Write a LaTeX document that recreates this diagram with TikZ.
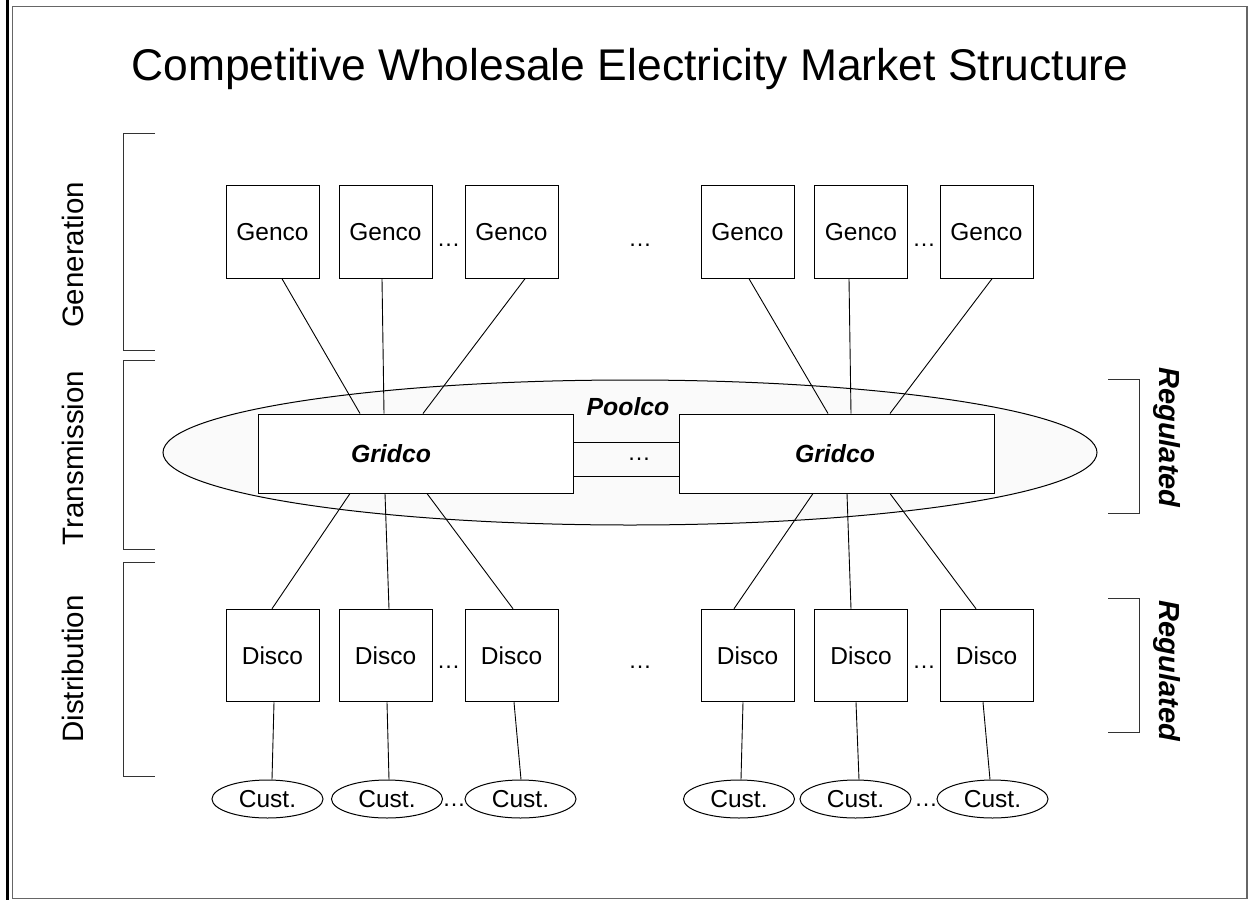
\documentclass[tikz,border=0pt]{standalone}
\usepackage{fontspec}
\setmainfont{Liberation Sans}
\usetikzlibrary{calc,shapes.geometric}
\begin{document}
\begin{tikzpicture}[x=1pt,y=-1pt,
  conn/.style={draw=black, line width=0.9pt},
  unitbox/.style={draw=black, line width=1pt, fill=white, minimum width=93pt, minimum height=92.5pt, inner sep=0pt, font=\fontsize{24.5}{27}\selectfont},
  custnode/.style={draw=black, line width=1pt, fill=white, ellipse, minimum width=111pt, minimum height=38pt, inner sep=0pt, font=\fontsize{24.5}{27}\selectfont},
  gridbox/.style={draw=black, line width=1pt, fill=white, minimum width=315pt, minimum height=79pt, inner sep=0pt},
  gridtext/.style={inner sep=0pt, font=\fontsize{24.8}{27}\selectfont\bfseries\itshape},
  dotsnode/.style={anchor=base, inner sep=0pt, font=\fontsize{23.5}{26}\selectfont},
  sidelabel/.style={rotate=90, anchor=base, inner sep=0pt, font=\fontsize{29.5}{32}\selectfont},
  reglabel/.style={rotate=-90, anchor=base, inner sep=0pt, font=\fontsize{29}{32}\selectfont\bfseries\itshape},
  bracketline/.style={draw=black!80, line width=1pt}
]
\useasboundingbox (0,0) rectangle (1251,900);
% frame
\draw[line width=3pt] (7,0) coordinate (fa) -- (7,900) coordinate (fb);
\draw[draw=black!60, line width=1.5pt] (12.5,6.5) rectangle (1247,898.5);

% title
\node[anchor=base, inner sep=0pt, font=\fontsize{44.4}{48}\selectfont] (title) at (630,80) {Competitive Wholesale Electricity Market Structure};

% Poolco ellipse
\node[draw=black, line width=1pt, fill=black!2, ellipse, minimum width=934pt, minimum height=145pt, inner sep=0pt] (pool) at (630,452.5) {};
\node[gridtext] (poolt) at (628,407) {Poolco};

% Gridcos
\node[gridbox] (gl) at (415.5,453.5) {};
\node[gridtext] (glt) at (391,454) {Gridco};
\node[gridbox] (gr) at (837,453.5) {};
\node[gridtext] (grt) at (835,454) {Gridco};
\draw[conn] ($(gl.east)+(0,-11.5)$) -- ($(gr.west)+(0,-11.5)$);
\draw[conn] ($(gl.east)+(0,22.5)$) -- ($(gr.west)+(0,22.5)$);
\node[dotsnode] (dgr) at (639,460.5) {…};

% Gencos
\node[unitbox] (g1) at (272.5,232) {Genco};
\node[unitbox] (g2) at (385.5,232) {Genco};
\node[unitbox] (g3) at (511.5,232) {Genco};
\node[unitbox] (g4) at (747.5,232) {Genco};
\node[unitbox] (g5) at (861,232) {Genco};
\node[unitbox] (g6) at (986.5,232) {Genco};
\node[dotsnode] (dg1) at (448.5,246.5) {…};
\node[dotsnode] (dg2) at (640,246.5) {…};
\node[dotsnode] (dg3) at (924,246.5) {…};

% Discos
\node[unitbox] (d1) at (272.5,655.5) {Disco};
\node[unitbox] (d2) at (385.5,655.5) {Disco};
\node[unitbox] (d3) at (511.5,655.5) {Disco};
\node[unitbox] (d4) at (747.5,655.5) {Disco};
\node[unitbox] (d5) at (861,655.5) {Disco};
\node[unitbox] (d6) at (986.5,655.5) {Disco};
\node[dotsnode] (dd1) at (448.5,668.5) {…};
\node[dotsnode] (dd2) at (640,668.5) {…};
\node[dotsnode] (dd3) at (924,668.5) {…};

% Customers
\node[custnode] (c1) at (267.5,799) {Cust.};
\node[custnode] (c2) at (387,799) {Cust.};
\node[custnode] (c3) at (520.5,799) {Cust.};
\node[custnode] (c4) at (739,799) {Cust.};
\node[custnode] (c5) at (855.5,799) {Cust.};
\node[custnode] (c6) at (992.5,799) {Cust.};
\node[dotsnode] (dc1) at (454,806.5) {…};
\node[dotsnode] (dc2) at (926,806.5) {…};

% Genco -> Gridco
\draw[conn] ($(g1.south)+(9.5,0)$) -- ($(gl.north)+(-55.5,0)$);
\draw[conn] ($(g2.south)+(-3.5,0)$) -- ($(gl.north)+(-31.5,0)$);
\draw[conn] ($(g3.south)+(13.5,0)$) -- ($(gl.north)+(7.5,0)$);
\draw[conn] ($(g4.south)+(1.5,0)$) -- ($(gr.north)+(-9,0)$);
\draw[conn] ($(g5.south)+(-12,0)$) -- ($(gr.north)+(14,0)$);
\draw[conn] ($(g6.south)+(5.5,0)$) -- ($(gr.north)+(53,0)$);

% Gridco -> Disco
\draw[conn] ($(gl.south)+(-65.5,0)$) -- ($(d1.north)+(-0.5,0)$);
\draw[conn] ($(gl.south)+(-30.5,0)$) -- ($(d2.north)+(3.5,0)$);
\draw[conn] ($(gl.south)+(11.5,0)$) -- ($(d3.north)+(1.5,0)$);
\draw[conn] ($(gr.south)+(-24,0)$) -- ($(d4.north)+(-13.5,0)$);
\draw[conn] ($(gr.south)+(10,0)$) -- ($(d5.north)+(-10,0)$);
\draw[conn] ($(gr.south)+(53,0)$) -- ($(d6.north)+(-10.5,0)$);

% Disco -> Customer
\draw[conn] ($(d1.south)+(1.5,0)$) -- ($(c1.north)+(4.5,0)$);
\draw[conn] ($(d2.south)+(1.5,0)$) -- ($(c2.north)+(2,0)$);
\draw[conn] ($(d3.south)+(2.5,0)$) -- ($(c3.north)+(0.5,0)$);
\draw[conn] ($(d4.south)+(-4.5,0)$) -- ($(c4.north)+(2,0)$);
\draw[conn] ($(d5.south)+(-5,0)$) -- ($(c5.north)+(3.5,0)$);
\draw[conn] ($(d6.south)+(-3.5,0)$) -- ($(c6.north)+(-2.5,0)$);

% left brackets and labels
\draw[bracketline] (155,133) -- (123.5,133) -- (123.5,350) -- (155,350);
\draw[bracketline] (155,360) -- (123.5,360) -- (123.5,549) -- (155,549);
\draw[bracketline] (155,562) -- (123.5,562) -- (123.5,776) -- (155,776);
\node[sidelabel] (lgen) at (83,255) {Generation};
\node[sidelabel] (ltra) at (83,458) {Transmission};
\node[sidelabel] (ldis) at (83,669) {Distribution};

% right brackets and labels
\draw[bracketline] (1108,379) -- (1139.5,379) -- (1139.5,513) -- (1108,513);
\draw[bracketline] (1108,598) -- (1139.5,598) -- (1139.5,732) -- (1108,732);
\node[reglabel] (lreg1) at (1159,437.5) {Regulated};
\node[reglabel] (lreg2) at (1159,671) {Regulated};
\end{tikzpicture}
\end{document}
